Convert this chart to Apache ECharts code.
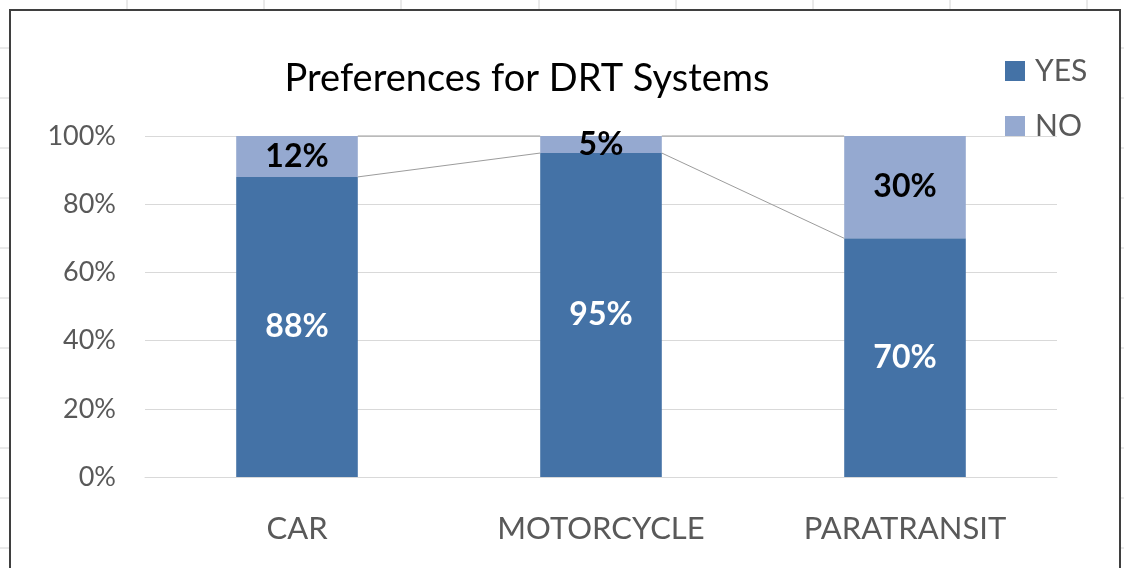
<!DOCTYPE html>
<html>
<head>
<meta charset="utf-8">
<script src="https://cdn.jsdelivr.net/npm/echarts@6/dist/echarts.min.js"></script>
<style>
 html, body { margin: 0; padding: 0; background: #fff; }
 #chart { width: 1124px; height: 568px; }
</style>
</head>
<body>
<div id="chart"></div>
<script>
const categories = ['CAR', 'MOTORCYCLE', 'PARATRANSIT']
const yesValues = [88, 95, 70]
const noValues = [12, 5, 30]
const yTicks = [0, 20, 40, 60, 80, 100]

const YES_COLOR = '#4472a6'
const NO_COLOR = '#95a9d0'
const FONT = 'Lato'

// spreadsheet cell lines peeking out round the chart frame
const sheetLines = []
for (let x = 127; x < 1124; x += 137.2) {
 sheetLines.push({ type: 'line', shape: { x1: Math.round(x), y1: 0, x2: Math.round(x), y2: 9 }, style: { stroke: '#d4d4d4', lineWidth: 1 } })
}
for (let y = 48; y < 568; y += 50) {
 sheetLines.push({ type: 'line', shape: { x1: 0, y1: y, x2: 9, y2: y }, style: { stroke: '#d4d4d4', lineWidth: 1 } })
 sheetLines.push({ type: 'line', shape: { x1: 1121, y1: y, x2: 1124, y2: y }, style: { stroke: '#d4d4d4', lineWidth: 1 } })
}

// series lines between stacked bars, like Excel draws them
const yesTops = yesValues
const noTops = yesValues.map((v, i) => v + noValues[i])
function connectorData(tops) {
 return tops.slice(0, -1).map((v, i) => [i, v, tops[i + 1]])
}

function renderConnector(params, api) {
 const i = api.value(0)
 const p1 = api.coord([i, api.value(1)])
 const p2 = api.coord([i + 1, api.value(2)])
 const half = api.size([1, 0])[0] * 0.2
 return {
 type: 'line',
 shape: { x1: p1[0] + half, y1: p1[1], x2: p2[0] - half, y2: p2[1] },
 style: { stroke: '#9c9c9c', lineWidth: 1 },
 silent: true
 }
}

const chart = echarts.init(document.getElementById('chart'))
chart.setOption({
 backgroundColor: '#fff',
 animation: false,
 title: {
 text: 'Preferences for DRT Systems',
 left: 522,
 top: 55,
 textAlign: 'center',
 textStyle: { fontFamily: FONT, fontSize: 38, fontWeight: 'normal', color: '#000' }
 },
 legend: {
 data: ['YES', 'NO'],
 orient: 'vertical',
 left: 1000,
 top: 51,
 itemWidth: 20,
 itemHeight: 20,
 itemGap: 25,
 icon: 'rect',
 textStyle: { fontFamily: FONT, fontSize: 30, color: '#595959', padding: [0, 0, 0, 5] }
 },
 grid: { left: 145, right: 67, top: 136, bottom: 91 },
 xAxis: {
 type: 'category',
 data: categories,
 axisLine: { lineStyle: { color: '#d9d9d9' } },
 axisTick: { show: false },
 axisLabel: { fontFamily: FONT, fontSize: 31, color: '#595959', margin: 36 }
 },
 yAxis: {
 type: 'value',
 min: yTicks[0],
 max: yTicks[yTicks.length - 1],
 interval: yTicks[1] - yTicks[0],
 axisLine: { show: false },
 axisTick: { show: false },
 splitLine: { lineStyle: { color: '#d9d9d9' } },
 axisLabel: { fontFamily: FONT, fontSize: 27, color: '#595959', margin: 29, formatter: '{value}%' }
 },
 graphic: sheetLines.concat([{
 type: 'rect',
 shape: { x: 10, y: 10, width: 1110, height: 600 },
 style: { fill: null, stroke: '#3f3f3f', lineWidth: 2 },
 silent: true,
 z: 10
 }]),
 series: [
 {
 name: 'YES',
 type: 'bar',
 stack: 'total',
 data: yesValues,
 barWidth: '40%',
 itemStyle: { color: YES_COLOR },
 label: { show: true, position: 'inside', formatter: '{c}%', fontFamily: FONT, fontSize: 32, fontWeight: 'bold', color: '#fff' }
 },
 {
 name: 'NO',
 type: 'bar',
 stack: 'total',
 data: noValues,
 barWidth: '40%',
 itemStyle: { color: NO_COLOR },
 label: { show: true, position: 'inside', formatter: '{c}%', fontFamily: FONT, fontSize: 32, fontWeight: 'bold', color: '#000' }
 },
 {
 type: 'custom',
 renderItem: renderConnector,
 data: connectorData(yesTops),
 z: 5,
 silent: true
 },
 {
 type: 'custom',
 renderItem: renderConnector,
 data: connectorData(noTops),
 z: 5,
 silent: true
 }
 ]
})
</script>
</body>
</html>
